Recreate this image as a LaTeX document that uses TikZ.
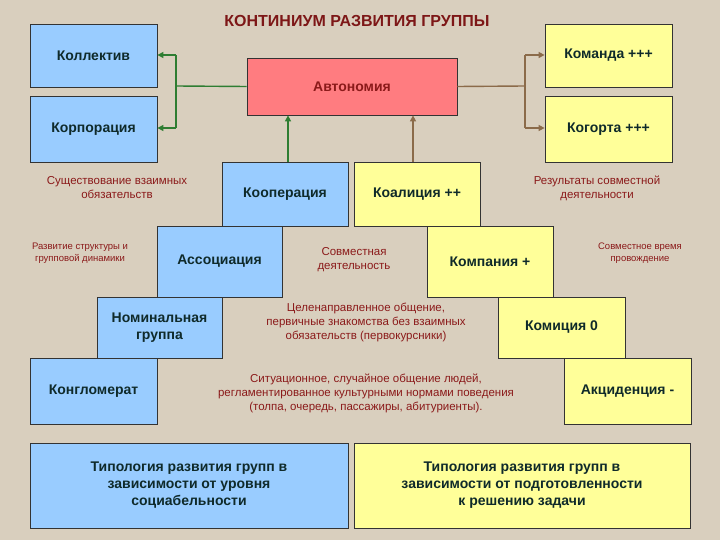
\documentclass[tikz,border=0pt]{standalone}
\usepackage{fontspec}
\setmainfont{Liberation Sans}
\usetikzlibrary{arrows.meta}
\definecolor{bg}{HTML}{D9CFBE}
\definecolor{bl}{HTML}{99CCFF}
\definecolor{yl}{HTML}{FFFF99}
\definecolor{rd}{HTML}{FF7C80}
\definecolor{tx}{HTML}{0F2A2A}
\definecolor{rt}{HTML}{8B1A1A}
\definecolor{gr}{HTML}{2E7D32}
\definecolor{br}{HTML}{8B6B4A}
\tikzset{
 box/.style={draw=black!80,line width=0.8pt,text=tx,font=\bfseries\fontsize{14}{17}\selectfont,align=center,inner sep=0pt},
 rtext/.style={text=rt,font=\fontsize{11.5}{14}\selectfont,align=center},
 stext/.style={text=rt,font=\fontsize{9.5}{11.5}\selectfont,align=center},
 ga/.style={draw=gr,line width=1.4pt,-{Triangle[length=6pt,width=6pt]}},
 ba/.style={draw=br,line width=1.4pt,-{Triangle[length=6pt,width=6pt]}},
}
\newcommand{\bx}[7]{\node[box,fill=#5,minimum width={(#3-#1)*1pt},minimum height={(#4-#2)*1pt}] (#6) at ({(#1+#3)/2},{(#2+#4)/2}) {#7};}
\begin{document}
\begin{tikzpicture}[x=1pt,y=-1pt]
\fill[bg] (0,0) rectangle (720,540);
\useasboundingbox (0,0) rectangle (720,540);
\node[text=rt!90!black,font=\bfseries\fontsize{16}{19}\selectfont] (title) at (357,21) {КОНТИНИУМ РАЗВИТИЯ ГРУППЫ};
\bx{30}{24}{157}{87}{bl}{kol}{Коллектив}
\bx{545}{24}{672}{87}{yl}{kom}{Команда +++}
\bx{30}{96}{157}{162}{bl}{kor}{Корпорация}
\bx{545}{96}{672}{162}{yl}{kog}{Когорта +++}
\bx{247}{58}{457}{115}{rd}{avt}{\textcolor{rt}{Автономия}}
\bx{222}{162}{348}{226}{bl}{koop}{Кооперация}
\bx{354}{162}{480}{226}{yl}{koal}{Коалиция ++}
\bx{157}{226}{282}{297}{bl}{ass}{Ассоциация}
\bx{427}{226}{553}{297}{yl}{kmp}{Компания +}
\bx{97}{297}{222}{358}{bl}{nom}{Номинальная\\группа}
\bx{498}{297}{625}{358}{yl}{kmc}{Комиция 0}
\bx{30}{358}{157}{424}{bl}{kon}{Конгломерат}
\bx{564}{358}{691}{424}{yl}{akc}{Акциденция -}
\bx{30}{443}{348}{528}{bl}{tl}{Типология развития групп в\\зависимости от уровня\\социабельности}
\bx{354}{443}{690}{528}{yl}{tr}{Типология развития групп в\\зависимости от подготовленности\\к решению задачи}
\node[rtext] (t1) at (117,188) {Существование взаимных\\обязательств};
\node[rtext] (t2) at (597,188) {Результаты совместной\\деятельности};
\node[stext] (t3) at (80,253) {Развитие структуры и\\групповой динамики};
\node[rtext] (t4) at (354,260) {Совместная\\деятельность};
\node[stext] (t5) at (640,253) {Совместное время\\провождение};
\node[rtext] (t6) at (366,322) {Целенаправленное общение,\\первичные знакомства  без взаимных\\обязательств (первокурсники)};
\node[rtext] (t7) at (366,393) {Ситуационное, случайное общение людей,\\регламентированное культурными нормами поведения\\(толпа, очередь, пассажиры, абитуриенты).};
\coordinate (gl) at (176,86);
\draw[gr,line width=1.4pt] (avt.west) -- (gl);
\draw[ga] (176,55) -- (kol.east |- 0,55);
\draw[ga] (176,128) -- (kor.east |- 0,128);
\draw[gr,line width=1.4pt] (176,55) -- (176,128);
\coordinate (bl1) at (525,86);
\draw[br,line width=1.4pt] (avt.east) -- (bl1);
\draw[br,line width=1.4pt] (525,55) -- (525,128);
\draw[ba] (525,55) -- (kom.west |- 0,55);
\draw[ba] (525,128) -- (kog.west |- 0,128);
\draw[ga] (koop.north -| 288,0) -- (avt.south -| 288,0);
\draw[ba] (koal.north -| 413,0) -- (avt.south -| 413,0);
\end{tikzpicture}
\end{document}
